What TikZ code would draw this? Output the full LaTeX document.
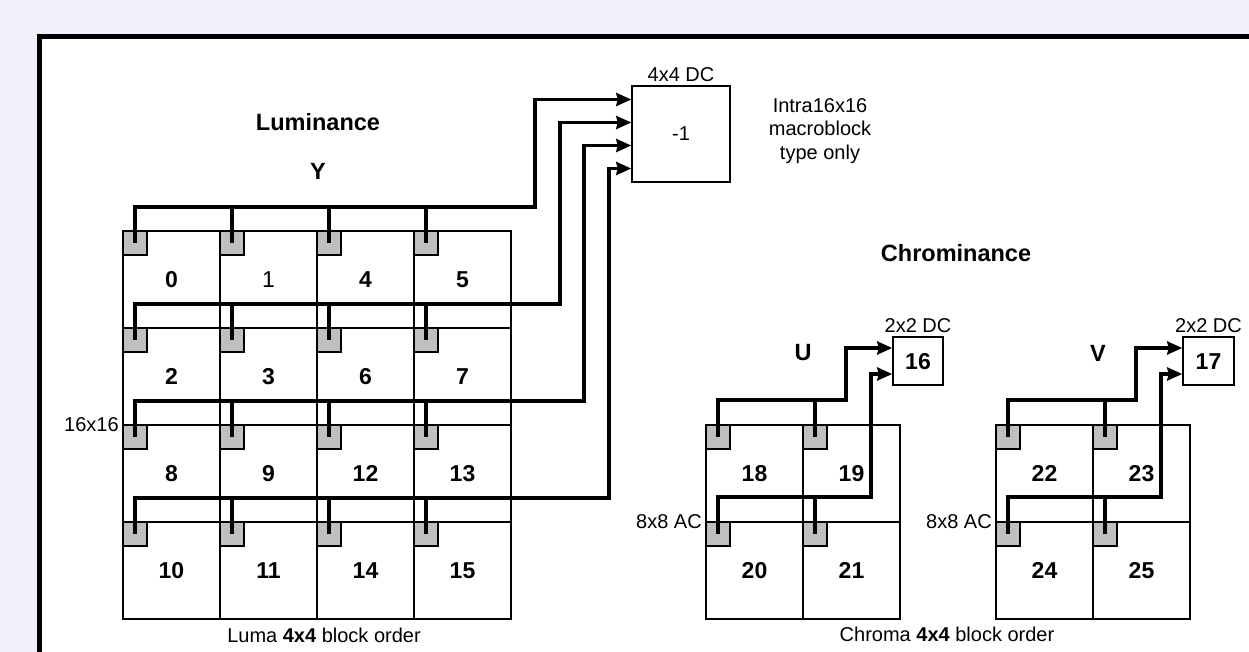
\documentclass[tikz,border=0pt]{standalone}
\usepackage{fontspec}
\setmainfont{Liberation Sans}
\usetikzlibrary{arrows.meta, positioning}
\definecolor{fondo}{RGB}{240,240,250}
\tikzset{
  num/.style={font=\fontsize{23}{27}\selectfont\bfseries, text height=16.5pt, text depth=0pt},
  celda/.style={draw, line width=1.5pt, minimum size=97pt, inner sep=0pt, num},
  gris/.style={draw, fill=gray!50, line width=1.5pt, minimum size=24pt, inner sep=0pt, anchor=north west},
  caja/.style={draw, line width=1.5pt, inner sep=0pt},
  bus/.style={line width=3.5pt},
  etiq/.style={font=\fontsize{20}{23.5}\selectfont},
  titulo/.style={font=\fontsize{23.5}{28}\selectfont\bfseries},
}

\begin{document}
\begin{tikzpicture}[x=1pt, y=-1pt, >={Stealth[length=15pt, width=13pt, inset=1.5pt]}]
  \useasboundingbox (0,0) rectangle (1249,652);
  % fondo y marco
  \fill[fondo] (0,0) rectangle (1249,652);
  \fill[white] (39,37) rectangle (1249,652);
  \draw[line width=5pt] (39,660) -- (39,37) -- (1260,37);

  % luminancia: bloques 4x4 en orden de codificacion
  \node[titulo] (lum) at (318,122) {Luminance};
  \node[titulo] (ylab) at (318,171) {Y};
  \foreach \n [count=\k from 0] in {0,1,4,5,2,3,6,7,8,9,12,13,10,11,14,15} {
    \pgfmathtruncatemacro\cx{mod(\k,4)}
    \pgfmathtruncatemacro\cy{\k/4}
    \node[celda] (y\n) at (171.5+97*\cx, 279.5+97*\cy) {\ifnum\n=1 \mdseries\fi\n};
    \node[gris] (g\n) at (y\n.north west) {};
  }
  \node[etiq, left=0pt of y8.north west] (l16) {16x16};
  \node[etiq] (lumaord) at (324,635) {Luma \textbf{4x4} block order};

  % bloque DC 4x4
  \node[caja, etiq, minimum width=98pt, minimum height=96pt] (dc) at (681,134) {-1};
  \node[etiq, above=0pt of dc] (dclab) {4x4 DC};
  \node[etiq, align=center] (intra) at (820,131) {Intra16x16\\macroblock\\type only};
  \foreach \ys [count=\r] in {34.5,11.5,-11.5,-34.5}
    \coordinate (in\r) at ([yshift=\ys]dc.west);
  \foreach \a/\b/\c/\d/\xk [count=\r] in {0/1/4/5/535, 2/3/6/7/560, 8/9/12/13/584, 10/11/14/15/609} {
    \coordinate (k\r) at (\xk,0);
    \draw[bus,->] (g\a.center) -- ++(0,-36) -| (in\r -| k\r) -- (in\r);
    \foreach \s in {\b,\c,\d}
      \draw[bus] (g\s.center) -- ++(0,-36);
  }

  % crominancia U
  \node[titulo] (crom) at (956,253) {Chrominance};
  \node[titulo] (ulab) at (803,353) {U};
  \foreach \n [count=\k from 0] in {18,19,20,21} {
    \pgfmathtruncatemacro\cx{mod(\k,2)}
    \pgfmathtruncatemacro\cy{\k/2}
    \node[celda] (u\n) at (754.5+97*\cx, 473.5+97*\cy) {\n};
    \node[gris] (g\n) at (u\n.north west) {};
  }
  \node[caja, num, minimum width=50pt, minimum height=48pt] (u16) at (918,361) {16};
  \node[etiq, above=0pt of u16] (u16lab) {2x2 DC};
  \node[etiq, left=0pt of u20.north west] (lu8) {8x8 AC};
  \foreach \ys [count=\r] in {13,-13}
    \coordinate (iu\r) at ([yshift=\ys]u16.west);
  \foreach \a/\b/\xk [count=\r] in {18/19/846, 20/21/871} {
    \coordinate (ku\r) at (\xk,0);
    \draw[bus,->] (g\a.center) -- ++(0,-37) -| (iu\r -| ku\r) -- (iu\r);
    \draw[bus] (g\b.center) -- ++(0,-37);
  }

  % crominancia V
  \node[titulo] (vlab) at (1098,353) {V};
  \foreach \n [count=\k from 0] in {22,23,24,25} {
    \pgfmathtruncatemacro\cx{mod(\k,2)}
    \pgfmathtruncatemacro\cy{\k/2}
    \node[celda] (v\n) at (1044.5+97*\cx, 473.5+97*\cy) {\n};
    \node[gris] (g\n) at (v\n.north west) {};
  }
  \node[caja, num, minimum width=51pt, minimum height=48pt] (v17) at (1208.5,361) {17};
  \node[etiq, above=0pt of v17] (v17lab) {2x2 DC};
  \node[etiq, left=0pt of v24.north west] (lv8) {8x8 AC};
  \foreach \ys [count=\r] in {13,-13}
    \coordinate (iv\r) at ([yshift=\ys]v17.west);
  \foreach \a/\b/\xk [count=\r] in {22/23/1136, 24/25/1161} {
    \coordinate (kv\r) at (\xk,0);
    \draw[bus,->] (g\a.center) -- ++(0,-37) -| (iv\r -| kv\r) -- (iv\r);
    \draw[bus] (g\b.center) -- ++(0,-37);
  }
  \node[etiq] (cromord) at (947,634) {Chroma \textbf{4x4} block order};
\end{tikzpicture}
\end{document}
